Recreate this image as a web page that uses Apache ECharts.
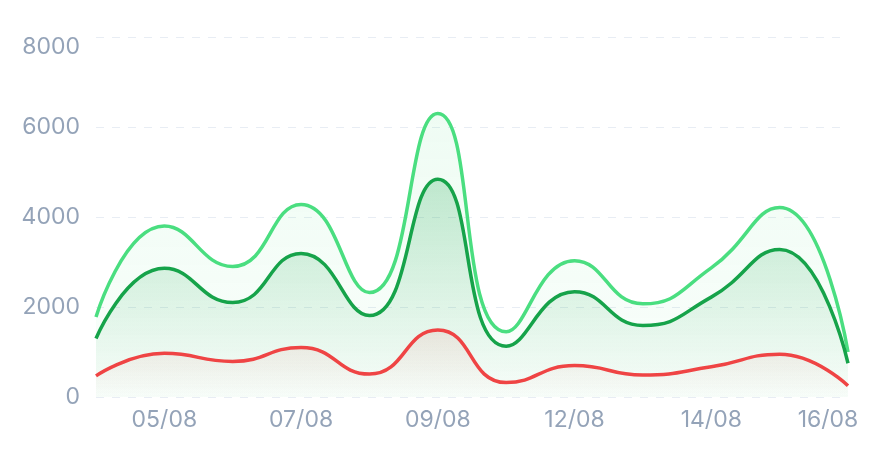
<!DOCTYPE html>
<html>
<head>
<meta charset="utf-8">
<script src="https://cdn.jsdelivr.net/npm/echarts@6/dist/echarts.min.js"></script>
<style>
  html, body { margin: 0; padding: 0; background: #fff; }
  #chart { width: 892px; height: 464px; }
</style>
</head>
<body>
<div id="chart"></div>
<script>
var days = ['04/08', '05/08', '06/08', '07/08', '08/08', '09/08', '11/08', '12/08', '13/08', '14/08', '15/08', '16/08'];
var totalValues = [1780, 3800, 2900, 4280, 2320, 6300, 1450, 3030, 2070, 2870, 4210, 1000];
var greenValues = [1300, 2860, 2100, 3190, 1810, 4840, 1130, 2340, 1590, 2220, 3280, 750];
var redValues = [470, 970, 790, 1100, 510, 1490, 320, 700, 490, 670, 950, 250];
var yTicks = [0, 2000, 4000, 6000, 8000];

(function () {
    var mychart = echarts.init(document.getElementById('chart'));

    var fade = function (rgb, top, bottom) {
        return new echarts.graphic.LinearGradient(0, 0, 0, 1, [
            { offset: 0, color: 'rgba(' + rgb + ',' + top + ')' },
            { offset: 1, color: 'rgba(' + rgb + ',' + bottom + ')' }
        ]);
    };

    var line = function (name, data, color, rgb, top, bottom) {
        return {
            name: name,
            type: 'line',
            data: data,
            smooth: true,
            showSymbol: false,
            lineStyle: { color: color, width: 3.5 },
            itemStyle: { color: color },
            areaStyle: { color: fade(rgb, top, bottom) }
        };
    };

    var option = {
        animation: false,
        grid: { left: 96, right: 44, top: 37, bottom: 67, containLabel: false },
        xAxis: {
            type: 'category',
            boundaryGap: false,
            data: days,
            axisLine: { show: false },
            axisTick: { show: false },
            axisLabel: {
                color: '#94a3b8',
                fontSize: 23,
                fontFamily: 'Inter',
                margin: 12,
                interval: function (i) { return i % 2 === 1; },
                formatter: function (v, i) {
                    // last label sits a bit left of its point
                    return i === days.length - 1 ? '{e|' + v + '}' : v;
                },
                rich: { e: { padding: [0, 40, 0, 0] } }
            }
        },
        yAxis: {
            type: 'value',
            min: yTicks[0],
            max: yTicks[yTicks.length - 1],
            interval: 2000,
            axisLine: { show: false },
            axisTick: { show: false },
            axisLabel: {
                color: '#94a3b8',
                fontSize: 23,
                fontFamily: 'Inter',
                margin: 16,
                formatter: function (v) {
                    return v === yTicks[yTicks.length - 1] ? '{t|' + v + '}' : String(v);
                },
                rich: { t: { padding: [20, 0, 0, 0] } }
            },
            splitLine: { lineStyle: { color: '#e8edf4', type: [8, 8], width: 1 } }
        },
        series: [
            line('total', totalValues, '#4ade80', '74,222,128', 0.13, 0.04),
            line('green', greenValues, '#16a34a', '22,163,74', 0.33, 0.02),
            line('red', redValues, '#ef4444', '239,68,68', 0.14, 0)
        ]
    };

    mychart.setOption(option);
})();
</script>
</body>
</html>
